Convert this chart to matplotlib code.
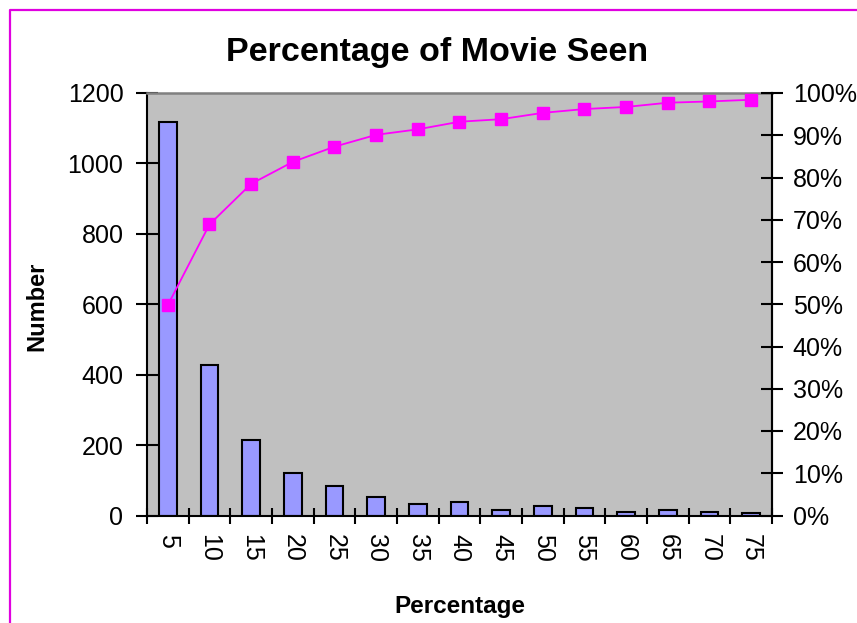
import matplotlib
matplotlib.use("Agg")
import matplotlib.pyplot as plt
from matplotlib.lines import Line2D
from matplotlib.ticker import FixedLocator, FuncFormatter
import numpy as np

plt.rcParams['font.family'] = ['Liberation Sans', 'DejaVu Sans']

# Share of the film watched (bin upper edge, %)
categories = ["5", "10", "15", "20", "25", "30", "35", "40", "45", "50",
              "55", "60", "65", "70", "75"]
# Number of viewers in each bin
counts = [1118, 427, 215, 121, 83, 53, 34, 37, 15, 28, 21, 11, 15, 11, 8]
# Cumulative share of viewers (%)
cumulative_pct = [49.8, 68.9, 78.5, 83.7, 87.3, 90.1, 91.4, 93.2, 93.8, 95.3,
                  96.2, 96.7, 97.7, 98.0, 98.4]

W, H = 857, 623
fig = plt.figure(figsize=(W / 100, H / 100), dpi=100)
fig.patch.set_facecolor("white")

# magenta frame around the chart (left and top edges fall inside the image)
fx, fy = 9.5 / W, 1 - 9.5 / H
fig.add_artist(Line2D([fx, fx, 1.05], [-0.05, fy, fy], transform=fig.transFigure,
                      color="#E000E0", linewidth=1.6, solid_capstyle="butt"))

left, right, top, bottom = 147, 772, 93, 515.5
ax = fig.add_axes([left / W, 1 - bottom / H, (right - left) / W, (bottom - top) / H])
ax.set_facecolor("#C0C0C0")

x = np.arange(len(categories))
ax.bar(x, counts, width=0.43, color="#9999FF", edgecolor="black",
       linewidth=1.5, zorder=2)
ax.set_xlim(-0.5, len(categories) - 0.5)
ax.set_ylim(0, 1200)
ax.set_yticks(np.arange(0, 1201, 200))

# category labels at bar centres, tick marks at the boundaries
ax.set_xticks(x)
ax.set_xticklabels(categories, rotation=-90, fontsize=18)
ax.xaxis.set_minor_locator(FixedLocator(np.arange(-0.5, len(categories), 1.0)))
ax.tick_params(axis="x", which="major", length=0, pad=13)
ax.tick_params(axis="x", which="minor", direction="inout", length=11, width=1.5)
ax.tick_params(axis="y", direction="inout", length=16, width=1.5, pad=9,
               labelsize=18)

for side in ("left", "bottom", "right"):
    ax.spines[side].set_color("black")
    ax.spines[side].set_linewidth(1.5)
ax.spines["top"].set_color("#808080")
ax.spines["top"].set_linewidth(1.8)

ax2 = ax.twinx()
ax2.plot(x, np.array(cumulative_pct) / 100, color="#FF00FF", linewidth=1.3,
         marker="s", markersize=8.4, markeredgecolor="#FF00FF", zorder=3)
ax2.set_ylim(0, 1)
ax2.set_yticks(np.arange(0, 1.001, 0.1))
ax2.yaxis.set_major_formatter(FuncFormatter(lambda v, _: f"{v * 100:.0f}%"))
ax2.tick_params(axis="y", direction="inout", length=16, width=1.5, pad=7,
                labelsize=18)
ax2.spines["right"].set_color("black")
ax2.spines["right"].set_linewidth(1.5)
for side in ("left", "top", "bottom"):
    ax2.spines[side].set_visible(False)

fig.text(437 / W, 1 - 61 / H, "Percentage of Movie Seen", ha="center",
         va="baseline", fontsize=24.5, fontweight="bold")
fig.text(37 / W, 1 - 306 / H, "Number", ha="center", va="center",
         rotation=90, fontsize=17, fontweight="bold")
fig.text(460 / W, 1 - 613 / H, "Percentage", ha="center", va="baseline",
         fontsize=17.5, fontweight="bold")

fig.savefig("out.png", dpi=100)
